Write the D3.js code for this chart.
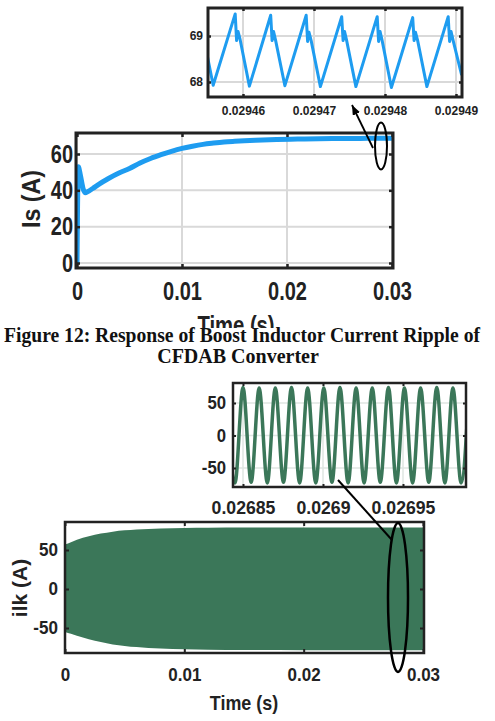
<!DOCTYPE html>
<html><head><meta charset="utf-8">
<script src="https://cdn.jsdelivr.net/npm/d3@7"></script>
<style>html,body{margin:0;padding:0;background:#fff;} svg{display:block;}</style>
</head><body>
<svg id="c" width="495" height="721"></svg>
<script>
// ---------- Top main chart: Is (A) ----------
const isTime  = [0, 0.00005, 0.00012, 0.0003, 0.0006, 0.0008, 0.0010, 0.0015, 0.0020, 0.0030, 0.0040, 0.0050, 0.0060, 0.0070, 0.0080, 0.0090, 0.0100, 0.0110, 0.0120, 0.0130, 0.0140, 0.0150, 0.0170, 0.0190, 0.0210, 0.0230, 0.0250, 0.0270, 0.0290, 0.0302];
const isValue = [0, 30, 53, 49, 40.5, 38.7, 39.2, 41, 43, 46.5, 49.5, 52, 55, 57.5, 59.6, 61.5, 63.1, 64.3, 65.3, 66, 66.6, 67, 67.6, 68, 68.2, 68.4, 68.5, 68.6, 68.7, 68.7];
const isXTicks = [0, 0.01, 0.02, 0.03];
const isXTickLabels = ["0", "0.01", "0.02", "0.03"];
const isYTicks = [0, 20, 40, 60];
const isYTickLabels = ["0", "20", "40", "60"];

// ---------- Top inset: Is ripple ----------
const zIsTime = [0.0294550, 0.0294558, 0.0294589, 0.0294591, 0.0294593, 0.0294596, 0.0294609,
  0.0294639, 0.0294641, 0.0294643, 0.0294646, 0.0294659,
  0.0294689, 0.0294691, 0.0294693, 0.0294696, 0.0294709,
  0.0294739, 0.0294741, 0.0294743, 0.0294746, 0.0294759,
  0.0294789, 0.0294791, 0.0294793, 0.0294796, 0.0294809,
  0.0294839, 0.0294841, 0.0294843, 0.0294846, 0.0294859,
  0.0294889, 0.0294891, 0.0294893, 0.0294896, 0.0294908];
const zIsValue = [68.55, 67.93, 69.48, 68.9, 69.1, 68.92, 67.91,
  69.45, 68.9, 69.1, 68.9, 67.92,
  69.45, 68.88, 69.08, 68.9, 67.9,
  69.42, 68.9, 69.1, 68.9, 67.9,
  69.42, 68.88, 69.1, 68.9, 67.88,
  69.4, 68.9, 69.08, 68.9, 67.9,
  69.42, 68.88, 69.1, 68.9, 68.15];
const zIsXTicks = [0.02946, 0.02947, 0.02948, 0.02949];
const zIsXTickLabels = ["0.02946", "0.02947", "0.02948", "0.02949"];
const zIsYTicks = [68, 69];
const zIsYTickLabels = ["68", "69"];

// ---------- Bottom main chart: ilk (A) envelope ----------
const ilkTime  = [0, 0.0005, 0.001, 0.002, 0.003, 0.004, 0.005, 0.006, 0.007, 0.008, 0.010, 0.012, 0.015, 0.020, 0.025, 0.0302];
const ilkUpper = [57, 60, 63, 67.5, 71, 73.5, 75.2, 76.3, 77, 77.6, 78.3, 78.6, 78.8, 79, 79, 79];
const ilkLower = [-55, -57.5, -60, -64.5, -68, -71, -73, -74.5, -75.5, -76.3, -77.3, -77.8, -78.2, -78.4, -78.5, -78.5];
const ilkXTicks = [0, 0.01, 0.02, 0.03];
const ilkXTickLabels = ["0", "0.01", "0.02", "0.03"];
const ilkYTicks = [-50, 0, 50];
const ilkYTickLabels = ["-50", "0", "50"];

// ---------- Bottom inset: ilk oscillation ----------
const zIlkTime = [0.0268399, 0.0268450, 0.0268500, 0.0268551, 0.0268601, 0.0268652, 0.0268702, 0.0268753,
  0.0268803, 0.0268854, 0.0268904, 0.0268955, 0.0269005, 0.0269056, 0.0269106, 0.0269157,
  0.0269207, 0.0269257, 0.0269308, 0.0269358, 0.0269409, 0.0269459, 0.0269509, 0.0269560,
  0.0269610, 0.0269661, 0.0269711, 0.0269762, 0.0269812, 0.0269863, 0.0269913];
const zIlkValue = [73, -73, 74, -72, 73, -73, 73, -72, 74, -73, 73, -73, 73, -72, 74, -73,
  73, -73, 73, -72, 74, -73, 73, -73, 73, -72, 74, -73, 73, -73, 73];
const zIlkXTicks = [0.02685, 0.0269, 0.02695];
const zIlkXTickLabels = ["0.02685", "0.0269", "0.02695"];
const zIlkYTicks = [-50, 0, 50];
const zIlkYTickLabels = ["-50", "0", "50"];

const captionLines = ["Figure 12: Response of Boost Inductor Current Ripple of", "CFDAB Converter"];

// ======================================================
const svg = d3.select("#c");
const defs = svg.append("defs");
const INK = "#222";
const SANS = "'Liberation Sans', Arial, Helvetica, sans-serif";
const SERIF = "'Liberation Serif', 'Times New Roman', serif";

function panel(cfg) {
  const b = cfg.box;
  const xs = d3.scaleLinear().domain(cfg.xDomain).range(cfg.xRange);
  const ys = d3.scaleLinear().domain(cfg.yDomain).range(cfg.yRange);
  const g = svg.append("g");
  defs.append("clipPath").attr("id", "clip" + cfg.id).append("rect")
    .attr("x", b.x0).attr("y", b.y0).attr("width", b.x1 - b.x0).attr("height", b.y1 - b.y0);
  g.append("rect").attr("x", b.x0).attr("y", b.y0).attr("width", b.x1 - b.x0).attr("height", b.y1 - b.y0).attr("fill", "#fff");
  const grid = g.append("g").attr("stroke", cfg.gridColor).attr("stroke-width", cfg.gridW);
  grid.selectAll("line.gx").data(cfg.xTicks).join("line").attr("class", "gx")
    .attr("x1", d => xs(d)).attr("x2", d => xs(d)).attr("y1", b.y0).attr("y2", b.y1);
  grid.selectAll("line.gy").data(cfg.yTicks).join("line").attr("class", "gy")
    .attr("y1", d => ys(d)).attr("y2", d => ys(d)).attr("x1", b.x0).attr("x2", b.x1);
  const plot = g.append("g").attr("clip-path", `url(#clip${cfg.id})`);
  cfg.draw(plot, xs, ys);

  const tl = cfg.tickLen;
  const styleAxis = a => {
    a.select(".domain").remove();
    a.selectAll(".tick line").attr("stroke", INK).attr("stroke-width", cfg.tickW);
  };
  const ax = g.append("g").attr("transform", `translate(0,${b.y1})`)
    .call(d3.axisBottom(xs).tickValues(cfg.xTicks).tickFormat((d, i) => cfg.xLabels[i]).tickSize(-tl).tickPadding(cfg.xPad))
    .call(styleAxis);
  ax.selectAll("text").attr("fill", INK).attr("font-family", SANS).attr("font-weight", "bold")
    .attr("font-size", cfg.xFont).attr("transform", `scale(${cfg.xSx},1)`);
  g.append("g").attr("transform", `translate(0,${b.y0})`)
    .call(d3.axisTop(xs).tickValues(cfg.xTicks).tickFormat("").tickSize(-tl)).call(styleAxis);
  const ay = g.append("g").attr("transform", `translate(${b.x0},0)`)
    .call(d3.axisLeft(ys).tickValues(cfg.yTicks).tickFormat((d, i) => cfg.yLabels[i]).tickSize(-tl).tickPadding(cfg.yPad))
    .call(styleAxis);
  ay.selectAll("text").attr("fill", INK).attr("font-family", SANS).attr("font-weight", "bold")
    .attr("font-size", cfg.yFont).attr("x", -cfg.yPad / cfg.ySx).attr("transform", `scale(${cfg.ySx},1)`);
  g.append("g").attr("transform", `translate(${b.x1},0)`)
    .call(d3.axisRight(ys).tickValues(cfg.yTicks).tickFormat("").tickSize(-tl)).call(styleAxis);
  g.append("rect").attr("x", b.x0).attr("y", b.y0).attr("width", b.x1 - b.x0).attr("height", b.y1 - b.y0)
    .attr("fill", "none").attr("stroke", INK).attr("stroke-width", cfg.borderW);
  return {xs, ys, g};
}

function label(str, x, y, size, sx, rot) {
  return svg.append("text")
    .attr("transform", `translate(${x},${y}) rotate(${rot || 0}) scale(${sx},1)`)
    .attr("text-anchor", "middle").attr("font-family", SANS).attr("font-weight", "bold")
    .attr("font-size", size).attr("fill", INK).text(str);
}

// ---------- Top main ----------
panel({
  id: "a", box: {x0: 76, x1: 393, y0: 133, y1: 268},
  xDomain: [0, 0.03], xRange: [77, 392], yDomain: [0, 60], yRange: [263, 154],
  xTicks: isXTicks, xLabels: isXTickLabels, yTicks: isYTicks, yLabels: isYTickLabels,
  gridColor: "#d9d9d9", gridW: 2, tickLen: 4, tickW: 2.5, borderW: 3,
  xPad: 14, xFont: 25, xSx: 0.8, yPad: 3, yFont: 25, ySx: 0.8,
  draw: (p, xs, ys) => {
    p.append("path").datum(isTime.map((t, i) => [t, isValue[i]]))
      .attr("fill", "none").attr("stroke", "#1e9cf0").attr("stroke-width", 5).attr("stroke-linejoin", "round")
      .attr("d", d3.line().x(d => xs(d[0])).y(d => ys(d[1])).curve(d3.curveMonotoneX));
  }
});
label("Is (A)", 40, 199, 25, 0.93, -90);
label("Time (s)", 236, 334, 25, 0.81, 0);

// ---------- Top inset ----------
panel({
  id: "b", box: {x0: 208, x1: 462, y0: 8, y1: 97},
  xDomain: [0.02946, 0.02949], xRange: [243, 456], yDomain: [68, 69], yRange: [82, 36],
  xTicks: zIsXTicks, xLabels: zIsXTickLabels, yTicks: zIsYTicks, yLabels: zIsYTickLabels,
  gridColor: "#d9d9d9", gridW: 2, tickLen: 3, tickW: 2.5, borderW: 3,
  xPad: 9, xFont: 12, xSx: 1, yPad: 5, yFont: 12, ySx: 1,
  draw: (p, xs, ys) => {
    p.append("path").datum(zIsTime.map((t, i) => [t, zIsValue[i]]))
      .attr("fill", "none").attr("stroke", "#1e9cf0").attr("stroke-width", 3).attr("stroke-linejoin", "round")
      .attr("d", d3.line().x(d => xs(d[0])).y(d => ys(d[1])));
  }
});

// arrow + ellipse (top)
const mk = defs.append("marker").attr("id", "arrow").attr("markerUnits", "userSpaceOnUse")
  .attr("viewBox", "0 0 10 8").attr("refX", 10).attr("refY", 4)
  .attr("markerWidth", 10).attr("markerHeight", 8).attr("orient", "auto");
mk.append("path").attr("d", "M0,0 L10,4 L0,8 Z").attr("fill", "#000");
svg.append("line").attr("x1", 373).attr("y1", 148).attr("x2", 352).attr("y2", 105)
  .attr("stroke", "#000").attr("stroke-width", 1.8).attr("marker-end", "url(#arrow)");
svg.append("ellipse").attr("cx", 381).attr("cy", 146).attr("rx", 6).attr("ry", 23.5)
  .attr("fill", "none").attr("stroke", "#000").attr("stroke-width", 2);

// ---------- Caption ----------
svg.append("rect").attr("x", 0).attr("y", 328).attr("width", 495).attr("height", 44).attr("fill", "#fff");
svg.append("text").attr("x", 242).attr("y", 342).attr("text-anchor", "middle")
  .attr("font-family", SERIF).attr("font-weight", "bold")
  .attr("font-size", 20).attr("fill", "#111")
  .attr("textLength", 476).attr("lengthAdjust", "spacingAndGlyphs").text(captionLines[0]);
svg.append("text").attr("x", 238).attr("y", 363).attr("text-anchor", "middle")
  .attr("font-family", SERIF).attr("font-weight", "bold")
  .attr("font-size", 20).attr("fill", "#111").text(captionLines[1]);

// ---------- Bottom main ----------
panel({
  id: "c", box: {x0: 65, x1: 424, y0: 522, y1: 653},
  xDomain: [0, 0.03], xRange: [65, 423], yDomain: [-50, 50], yRange: [628, 550],
  xTicks: ilkXTicks, xLabels: ilkXTickLabels, yTicks: ilkYTicks, yLabels: ilkYTickLabels,
  gridColor: "#e4e4e4", gridW: 1.5, tickLen: 4, tickW: 2, borderW: 2.5,
  xPad: 15, xFont: 18.5, xSx: 0.92, yPad: 7, yFont: 18, ySx: 0.95,
  draw: (p, xs, ys) => {
    p.append("path").datum(ilkTime.map((t, i) => [t, ilkUpper[i], ilkLower[i]]))
      .attr("fill", "#3b7759")
      .attr("d", d3.area().x(d => xs(d[0])).y0(d => ys(d[2])).y1(d => ys(d[1])).curve(d3.curveMonotoneX));
  }
});
label("Time (s)", 244, 710, 19.5, 0.92, 0);
label("ilk (A)", 27, 588, 21, 1.0, -90);

// ---------- Bottom inset ----------
panel({
  id: "d", box: {x0: 233, x1: 466, y0: 383, y1: 487},
  xDomain: [0.02685, 0.02695], xRange: [243, 403], yDomain: [-50, 50], yRange: [468, 403],
  xTicks: zIlkXTicks, xLabels: zIlkXTickLabels, yTicks: zIlkYTicks, yLabels: zIlkYTickLabels,
  gridColor: "#dfe6e2", gridW: 1.5, tickLen: 3, tickW: 2, borderW: 2.5,
  xPad: 14, xFont: 19, xSx: 0.93, yPad: 7, yFont: 18, ySx: 0.93,
  draw: (p, xs, ys) => {
    p.append("path").datum(zIlkTime.map((t, i) => [t, zIlkValue[i]]))
      .attr("fill", "none").attr("stroke", "#3b7759").attr("stroke-width", 3.5)
      .attr("d", d3.line().x(d => xs(d[0])).y(d => ys(d[1])).curve(d3.curveMonotoneX));
  }
});

// connector + ellipse (bottom)
svg.append("line").attr("x1", 338).attr("y1", 480).attr("x2", 392).attr("y2", 540)
  .attr("stroke", "#000").attr("stroke-width", 2);
svg.append("ellipse").attr("cx", 398).attr("cy", 597.5).attr("rx", 10).attr("ry", 74.5)
  .attr("fill", "none").attr("stroke", "#000").attr("stroke-width", 2.5);
</script>
</body></html>
